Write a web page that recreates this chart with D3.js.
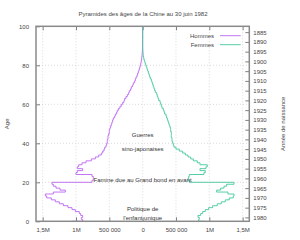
<!DOCTYPE html>
<html>
<head>
<meta charset="utf-8">
<script src="https://cdnjs.cloudflare.com/ajax/libs/d3/7.8.5/d3.min.js"></script>
<style>
  body { margin: 0; background: #fff; }
  svg { display: block; font-family: "Liberation Sans", Arial, sans-serif; }
  .axis text { font-size: 6px; fill: #454545; }
  .axis line { stroke: #808080; }
</style>
</head>
<body>
<svg id="chart" width="300" height="240"></svg>
<script>
// population par âge (milliers), âge 0 à 100
var hommes = [1060, 900, 920, 900, 930, 950, 1010, 1060, 1120, 1190,
  1250, 1310, 1370, 1440, 1460, 1340, 1160, 1240, 1300, 1340,
  1360, 760, 740, 740, 760, 1000, 980, 900, 980, 960,
  910, 850, 770, 710, 660, 620, 600, 580, 570, 550,
  540, 530, 530, 520, 520, 510, 500, 500, 490, 480,
  470, 460, 450, 440, 420, 410, 390, 380, 360, 340,
  320, 300, 280, 270, 250, 230, 210, 200, 180, 170,
  150, 140, 120, 110, 100, 85, 75, 65, 55, 45,
  37, 30, 24, 19, 15, 11, 8, 6, 4, 3,
  2, 2, 1, 1, 1, 0, 0, 0, 0, 0, 0];
var femmes = [940, 840, 850, 830, 870, 900, 940, 990, 1050, 1120,
  1180, 1240, 1300, 1360, 1370, 1280, 1110, 1170, 1220, 1260,
  1370, 700, 680, 690, 700, 920, 940, 860, 950, 970,
  860, 820, 760, 720, 680, 640, 600, 550, 500, 470,
  460, 450, 440, 440, 430, 430, 430, 420, 420, 410,
  400, 390, 380, 370, 360, 350, 330, 320, 310, 290,
  280, 270, 260, 240, 230, 220, 210, 190, 180, 170,
  160, 150, 140, 130, 115, 105, 95, 85, 75, 65,
  55, 45, 35, 25, 18, 12, 8, 6, 4, 3,
  2, 2, 1, 1, 1, 1, 0, 0, 0, 0, 0];

var xTicks = [-1500000, -1000000, -500000, 0, 500000, 1000000, 1500000];
var xLabels = ["1,5M", "1M", "500 000", "0", "500 000", "1M", "1,5M"];
var ageTicks = [0, 20, 40, 60, 80, 100];
var yearTicks = d3.range(1885, 1981, 5);
var anneeRecensement = 1982;

var notes = [
  { text: "Guerres", age: 44.5 },
  { text: "sino-japonaises", age: 37.3 },
  { text: "Famine due au Grand bond en avant", age: 21 },
  { text: "Politique de", age: 6.6 },
  { text: "l'enfant unique", age: 1.6 }
];

var colH = "#bb68f2", colF = "#45c79e";

var svg = d3.select("#chart");
var pLeft = 36, pRight = 249.3, pTop = 26.3, pBottom = 221.3;

var x = d3.scaleLinear().domain([-1600000, 1600000]).range([pLeft, pRight]);
var y = d3.scaleLinear().domain([0, 100]).range([pBottom, pTop]);
var y2 = d3.scaleLinear().domain([anneeRecensement, anneeRecensement - 100]).range([pBottom, pTop]);

// grille
var grid = svg.append("g").attr("stroke", "#cccccc").attr("stroke-width", 0.7)
  .attr("stroke-dasharray", "1,2");
grid.selectAll(".gx").data(xTicks).enter().append("line")
  .attr("x1", d => x(d)).attr("x2", d => x(d)).attr("y1", pTop).attr("y2", pBottom);
grid.selectAll(".gy").data(ageTicks.slice(1, -1)).enter().append("line")
  .attr("x1", pLeft).attr("x2", pRight).attr("y1", d => y(d)).attr("y2", d => y(d));

// axes
svg.append("g").attr("class", "axis").attr("transform", "translate(0," + pBottom + ")")
  .call(d3.axisBottom(x).tickValues(xTicks).tickSizeInner(-4).tickSizeOuter(0).tickPadding(6)
    .tickFormat((d, i) => xLabels[i]));
svg.append("g").attr("class", "axis").attr("transform", "translate(0," + pTop + ")")
  .call(d3.axisTop(x).tickValues(xTicks).tickSizeInner(-4).tickSizeOuter(0).tickFormat(""));
svg.append("g").attr("class", "axis").attr("transform", "translate(" + pLeft + ",0)")
  .call(d3.axisLeft(y).tickValues(ageTicks).tickSizeInner(-4).tickSizeOuter(0).tickPadding(7));
svg.append("g").attr("class", "axis").attr("transform", "translate(" + pRight + ",0)")
  .call(d3.axisRight(y2).tickValues(yearTicks).tickSizeInner(-4).tickSizeOuter(0).tickPadding(4)
    .tickFormat(d3.format("d")));
svg.selectAll(".axis .domain").remove();

// séries
var line = d3.line().curve(d3.curveStepAfter);
svg.append("path")
  .attr("d", line(hommes.map((v, i) => [x(-v * 1000), y(i)])))
  .attr("fill", "none").attr("stroke", colH).attr("stroke-width", 0.9);
svg.append("path")
  .attr("d", line(femmes.map((v, i) => [x(v * 1000), y(i)])))
  .attr("fill", "none").attr("stroke", colF).attr("stroke-width", 0.9);

// cadre
svg.append("rect").attr("x", pLeft).attr("y", pTop)
  .attr("width", pRight - pLeft).attr("height", pBottom - pTop)
  .attr("fill", "none").attr("stroke", "#8a8a8a").attr("stroke-width", 1.5);

// annotations
svg.selectAll(".note").data(notes).enter().append("text")
  .attr("x", x(0)).attr("y", d => y(d.age)).attr("dy", "0.35em")
  .attr("text-anchor", "middle").attr("font-size", 6).attr("fill", "#333333")
  .text(d => d.text);

// légende
var legend = [{ name: "Hommes", color: colH, yy: 35.7 }, { name: "Femmes", color: colF, yy: 44.7 }];
var lg = svg.selectAll(".lg").data(legend).enter().append("g");
lg.append("text").attr("x", 214).attr("y", d => d.yy).attr("dy", "0.35em")
  .attr("text-anchor", "end").attr("font-size", 6).attr("fill", "#454545").text(d => d.name);
lg.append("line").attr("x1", 220).attr("x2", 240.7).attr("y1", d => d.yy).attr("y2", d => d.yy)
  .attr("stroke", d => d.color).attr("stroke-width", 0.9);

// titres
svg.append("text").attr("x", 143).attr("y", 14).attr("dy", "0.35em").attr("text-anchor", "middle")
  .attr("font-size", 6).attr("fill", "#454545").text("Pyramides des âges de la Chine au 30 juin 1982");
svg.append("text").attr("transform", "translate(7," + ((pTop + pBottom) / 2) + ") rotate(-90)")
  .attr("dy", "0.35em").attr("text-anchor", "middle").attr("font-size", 6).attr("fill", "#454545").text("Age");
svg.append("text").attr("transform", "translate(283," + ((pTop + pBottom) / 2) + ") rotate(-90)")
  .attr("dy", "0.35em").attr("text-anchor", "middle").attr("font-size", 6).attr("fill", "#454545").text("Année de naissance");
</script>
</body>
</html>
